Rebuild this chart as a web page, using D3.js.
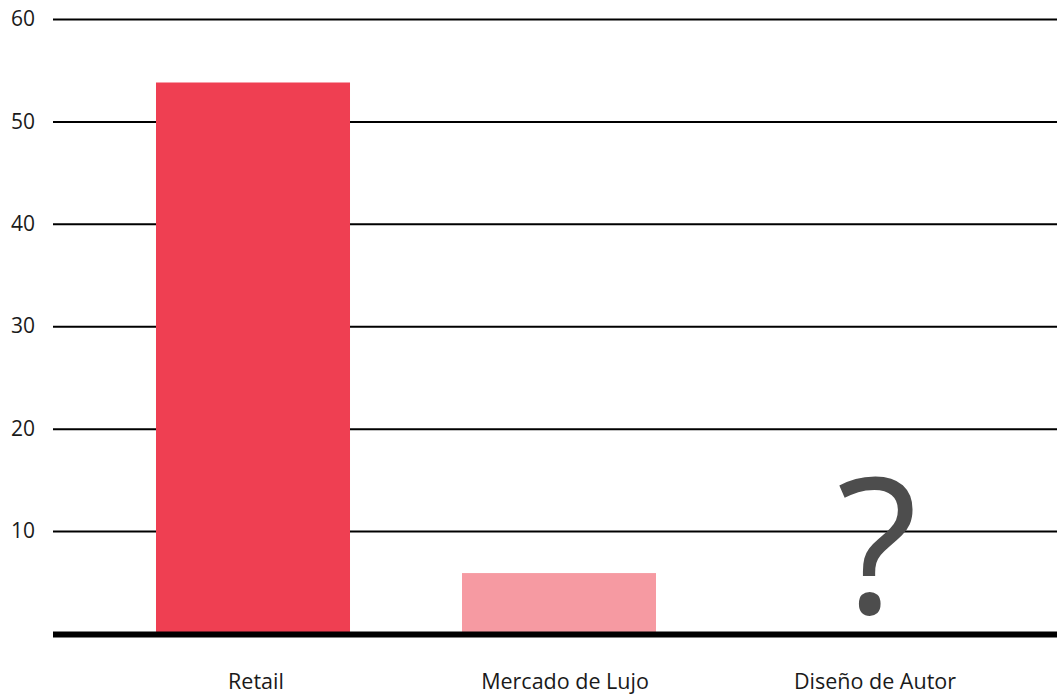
<!DOCTYPE html>
<html lang="es">
<head>
<meta charset="utf-8">
<script src="https://d3js.org/d3.v7.min.js"></script>
<style>
  body { margin: 0; background: #fff; }
  text { font-family: "Open Sans", "Noto Sans", sans-serif; }
</style>
</head>
<body>
<script>
// datos
const categorias = ["Retail", "Mercado de Lujo", "Diseño de Autor"];
const valores = [53.8, 5.9, null];
const colores = ["#ef3f52", "#f69aa2", "none"];
const ticksY = [10, 20, 30, 40, 50, 60];
const marcaDesconocida = "?";

const width = 1057, height = 698;

const svg = d3.select("body").append("svg")
    .attr("width", width)
    .attr("height", height);

const y = d3.scaleLinear()
    .domain([0, 60])
    .range([633.5, 19]);

const x = d3.scaleBand()
    .domain(categorias)
    .range([100, 1018])
    .paddingInner(0.366)
    .paddingOuter(0.183);

// lineas de la grilla
const yAxis = svg.append("g")
    .attr("transform", "translate(53,0)")
    .call(d3.axisLeft(y)
        .tickValues(ticksY)
        .tickSize(-(width - 53))
        .tickPadding(18));

yAxis.select(".domain").remove();
yAxis.selectAll(".tick line")
    .attr("stroke", "#000")
    .attr("stroke-width", 2);
yAxis.selectAll(".tick text")
    .attr("fill", "#1a1a1a")
    .style("font-size", "21px");

// barras
svg.append("g")
    .selectAll("rect")
    .data(categorias.map((c, i) => ({ c: c, v: valores[i], col: colores[i] })).filter(d => d.v != null))
    .enter().append("rect")
    .attr("x", d => x(d.c))
    .attr("width", x.bandwidth())
    .attr("y", d => y(d.v))
    .attr("height", d => y(0) - y(d.v))
    .attr("fill", d => d.col);

// signo de pregunta para la categoria sin datos
svg.append("g")
    .selectAll("text")
    .data(categorias.filter((c, i) => valores[i] == null))
    .enter().append("text")
    .attr("x", d => x(d) + x.bandwidth() / 2 + 12)
    .attr("y", 613)
    .attr("text-anchor", "middle")
    .attr("fill", "#4d4d4d")
    .style("font-size", "188px")
    .text(marcaDesconocida);

// linea base
svg.append("line")
    .attr("x1", 53)
    .attr("x2", width)
    .attr("y1", y(0) + 1)
    .attr("y2", y(0) + 1)
    .attr("stroke", "#000")
    .attr("stroke-width", 6);

// etiquetas de categorias
const xAxis = svg.append("g")
    .attr("transform", "translate(0," + (y(0) + 4) + ")")
    .call(d3.axisBottom(x).tickSize(0).tickPadding(36));

xAxis.select(".domain").remove();
xAxis.selectAll(".tick text")
    .attr("fill", "#1a1a1a")
    .attr("dx", (d, i) => [3, 6, 10][i])
    .style("font-size", "21.5px");
</script>
</body>
</html>
